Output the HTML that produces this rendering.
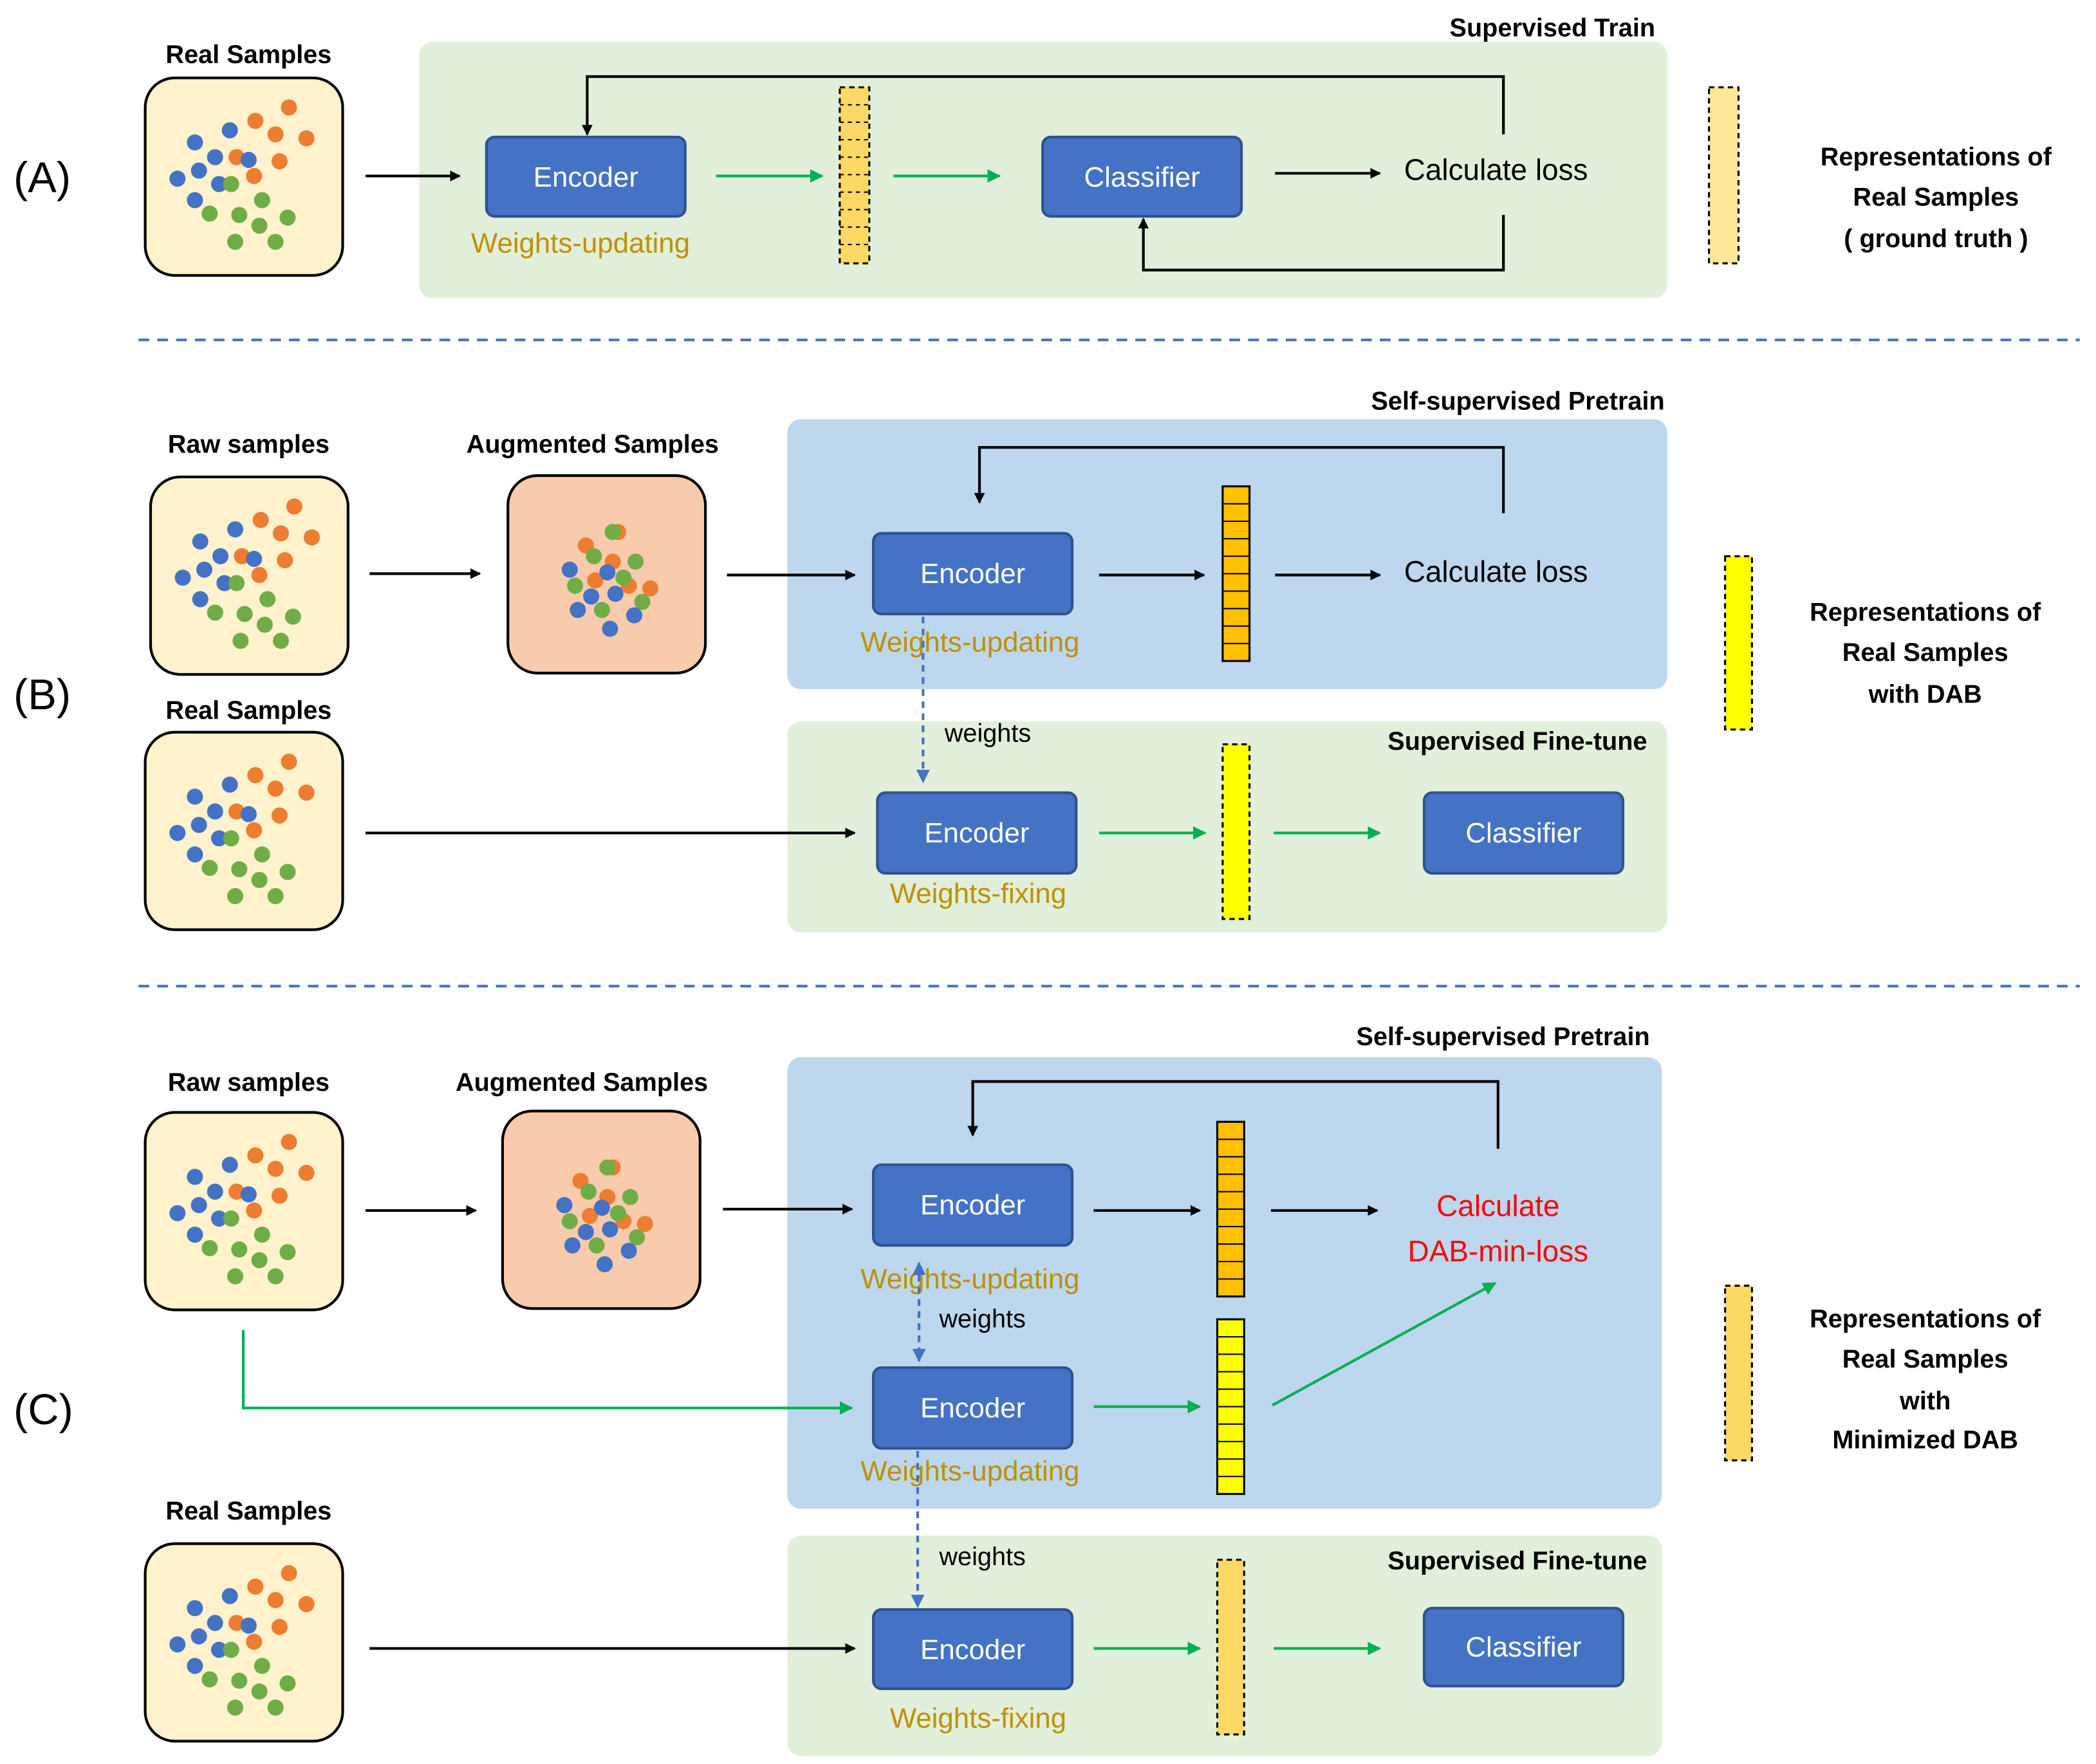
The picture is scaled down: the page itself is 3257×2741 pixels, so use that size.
<!DOCTYPE html>
<html><head><meta charset="utf-8"><style>html,body{margin:0;padding:0;background:#fff}svg{display:block}</style></head>
<body>
<svg width="3257" height="2741" viewBox="0 0 1560 1313" xmlns="http://www.w3.org/2000/svg" font-family="Liberation Sans, sans-serif">
<defs>
<marker id="ak" markerWidth="8" markerHeight="8" refX="7" refY="4" orient="auto" markerUnits="userSpaceOnUse"><path d="M0,0 L8,4 L0,8 z" fill="#000"/></marker>
<marker id="ag" markerWidth="10" markerHeight="10" refX="9" refY="5" orient="auto" markerUnits="userSpaceOnUse"><path d="M0,0 L10,5 L0,10 z" fill="#00b050"/></marker>
<marker id="ab" markerWidth="10" markerHeight="10" refX="9" refY="5" orient="auto-start-reverse" markerUnits="userSpaceOnUse"><path d="M0,0 L10,5 L0,10 z" fill="#4472c4"/></marker>
<g id="real">
<rect x="0" y="0" width="147" height="147" rx="22" fill="#fff2cc" stroke="#000" stroke-width="2"/>
<g fill="#ed7d31"><circle cx="107" cy="22" r="6"/><circle cx="82" cy="32" r="6"/><circle cx="97" cy="42" r="6"/><circle cx="120" cy="45" r="6"/><circle cx="68" cy="59" r="6"/><circle cx="100" cy="62" r="6"/><circle cx="81" cy="73" r="6"/></g>
<g fill="#4472c4"><circle cx="37" cy="48" r="6"/><circle cx="63" cy="39" r="6"/><circle cx="52" cy="59" r="6"/><circle cx="77" cy="61" r="6"/><circle cx="40" cy="69" r="6"/><circle cx="24" cy="75" r="6"/><circle cx="55" cy="79" r="6"/><circle cx="37" cy="91" r="6"/></g>
<g fill="#70ad47"><circle cx="64" cy="79" r="6"/><circle cx="48" cy="101" r="6"/><circle cx="70" cy="102" r="6"/><circle cx="87" cy="91" r="6"/><circle cx="85" cy="110" r="6"/><circle cx="106" cy="104" r="6"/><circle cx="67" cy="122" r="6"/><circle cx="97" cy="122" r="6"/></g>
</g>
<g id="aug">
<rect x="0" y="0" width="147" height="147" rx="22" fill="#f8cbad" stroke="#000" stroke-width="2"/>
<g fill="#ed7d31"><circle cx="82" cy="42" r="6"/><circle cx="58" cy="52" r="6"/><circle cx="78" cy="64" r="6"/><circle cx="90" cy="82" r="6"/><circle cx="106" cy="84" r="6"/><circle cx="65" cy="78" r="6"/></g>
<g fill="#70ad47"><circle cx="78" cy="42" r="6"/><circle cx="64" cy="60" r="6"/><circle cx="95" cy="64" r="6"/><circle cx="50" cy="82" r="6"/><circle cx="86" cy="76" r="6"/><circle cx="70" cy="100" r="6"/><circle cx="100" cy="94" r="6"/></g>
<g fill="#4472c4"><circle cx="46" cy="70" r="6"/><circle cx="74" cy="72" r="6"/><circle cx="62" cy="90" r="6"/><circle cx="52" cy="100" r="6"/><circle cx="94" cy="104" r="6"/><circle cx="76" cy="114" r="6"/><circle cx="80" cy="88" r="6"/></g>
</g>
</defs>
<g font-size="21">
<!-- (A) -->
<text x="10" y="143" font-size="32">(A)</text>
<text x="185" y="47" text-anchor="middle" font-weight="bold" font-size="19">Real Samples</text>
<use href="#real" x="108" y="58"/>
<rect x="312" y="31" width="929" height="191" rx="10" fill="#e2efda"/>
<text x="1232" y="27" text-anchor="end" font-weight="bold" font-size="19">Supervised Train</text>
<line x1="272" y1="131" x2="342" y2="131" stroke="#000" stroke-width="2" marker-end="url(#ak)"/>
<rect x="362" y="102" width="148" height="59" rx="6" fill="#4472c4" stroke="#2f528f" stroke-width="2"/>
<text x="436" y="139" text-anchor="middle" fill="#fff">Encoder</text>
<text x="432" y="188" text-anchor="middle" fill="#bf9000">Weights-updating</text>
<line x1="533" y1="131" x2="612" y2="131" stroke="#00b050" stroke-width="2" marker-end="url(#ag)"/>
<rect x="625" y="65" width="22" height="131" fill="#ffd966" stroke="#000" stroke-dasharray="4,3" stroke-width="1.5"/>
<g stroke="#000" stroke-dasharray="3,3"><line x1="625" y1="78" x2="647" y2="78"/><line x1="625" y1="91" x2="647" y2="91"/><line x1="625" y1="104" x2="647" y2="104"/><line x1="625" y1="117" x2="647" y2="117"/><line x1="625" y1="130" x2="647" y2="130"/><line x1="625" y1="143" x2="647" y2="143"/><line x1="625" y1="156" x2="647" y2="156"/><line x1="625" y1="169" x2="647" y2="169"/><line x1="625" y1="182" x2="647" y2="182"/></g>
<line x1="665" y1="131" x2="744" y2="131" stroke="#00b050" stroke-width="2" marker-end="url(#ag)"/>
<rect x="776" y="102" width="148" height="59" rx="6" fill="#4472c4" stroke="#2f528f" stroke-width="2"/>
<text x="850" y="139" text-anchor="middle" fill="#fff">Classifier</text>
<line x1="949" y1="129" x2="1027" y2="129" stroke="#000" stroke-width="2" marker-end="url(#ak)"/>
<text x="1045" y="134" font-size="22">Calculate loss</text>
<polyline points="1119,100 1119,57 437,57 437,100" fill="none" stroke="#000" stroke-width="2" marker-end="url(#ak)"/>
<polyline points="1119,160 1119,201 851,201 851,163" fill="none" stroke="#000" stroke-width="2" marker-end="url(#ak)"/>
<rect x="1272" y="65" width="22" height="131" fill="#ffe699" stroke="#000" stroke-dasharray="4,3" stroke-width="1.5"/>
<text x="1441" y="123" text-anchor="middle" font-weight="bold" font-size="19">Representations of</text>
<text x="1441" y="153" text-anchor="middle" font-weight="bold" font-size="19">Real Samples</text>
<text x="1441" y="184" text-anchor="middle" font-weight="bold" font-size="19">( ground truth )</text>
<line x1="103" y1="253" x2="1548" y2="253" stroke="#4472c4" stroke-width="2" stroke-dasharray="8,6"/>

<!-- (B) -->
<text x="10" y="528" font-size="32">(B)</text>
<text x="185" y="337" text-anchor="middle" font-weight="bold" font-size="19">Raw samples</text>
<use href="#real" x="112" y="355"/>
<line x1="275" y1="427" x2="357" y2="427" stroke="#000" stroke-width="2" marker-end="url(#ak)"/>
<text x="441" y="337" text-anchor="middle" font-weight="bold" font-size="19">Augmented Samples</text>
<use href="#aug" x="378" y="354"/>
<rect x="586" y="312" width="655" height="201" rx="10" fill="#bdd7ee"/>
<text x="1239" y="305" text-anchor="end" font-weight="bold" font-size="19">Self-supervised Pretrain</text>
<line x1="541" y1="428" x2="636" y2="428" stroke="#000" stroke-width="2" marker-end="url(#ak)"/>
<rect x="650" y="397" width="148" height="60" rx="6" fill="#4472c4" stroke="#2f528f" stroke-width="2"/>
<text x="724" y="434" text-anchor="middle" fill="#fff">Encoder</text>
<text x="722" y="485" text-anchor="middle" fill="#bf9000">Weights-updating</text>
<line x1="818" y1="428" x2="896" y2="428" stroke="#000" stroke-width="2" marker-end="url(#ak)"/>
<rect x="910" y="362" width="20" height="130" fill="#ffc000" stroke="#000" stroke-width="1.5"/>
<g stroke="#000"><line x1="910" y1="375" x2="930" y2="375"/><line x1="910" y1="388" x2="930" y2="388"/><line x1="910" y1="401" x2="930" y2="401"/><line x1="910" y1="414" x2="930" y2="414"/><line x1="910" y1="427" x2="930" y2="427"/><line x1="910" y1="440" x2="930" y2="440"/><line x1="910" y1="453" x2="930" y2="453"/><line x1="910" y1="466" x2="930" y2="466"/><line x1="910" y1="479" x2="930" y2="479"/></g>
<line x1="949" y1="428" x2="1027" y2="428" stroke="#000" stroke-width="2" marker-end="url(#ak)"/>
<text x="1045" y="433" font-size="22">Calculate loss</text>
<polyline points="1119,382 1119,333 729,333 729,374" fill="none" stroke="#000" stroke-width="2" marker-end="url(#ak)"/>
<text x="185" y="535" text-anchor="middle" font-weight="bold" font-size="19">Real Samples</text>
<use href="#real" x="108" y="545"/>
<rect x="586" y="537" width="655" height="157" rx="10" fill="#e2efda"/>
<text x="1226" y="558" text-anchor="end" font-weight="bold" font-size="19">Supervised Fine-tune</text>
<line x1="272" y1="620" x2="636" y2="620" stroke="#000" stroke-width="2" marker-end="url(#ak)"/>
<rect x="653" y="590" width="148" height="60" rx="6" fill="#4472c4" stroke="#2f528f" stroke-width="2"/>
<text x="727" y="627" text-anchor="middle" fill="#fff">Encoder</text>
<text x="728" y="672" text-anchor="middle" fill="#bf9000">Weights-fixing</text>
<line x1="818" y1="620" x2="897" y2="620" stroke="#00b050" stroke-width="2" marker-end="url(#ag)"/>
<rect x="910" y="554" width="20" height="130" fill="#ffff00" stroke="#000" stroke-dasharray="4,3" stroke-width="1.5"/>
<line x1="948" y1="620" x2="1027" y2="620" stroke="#00b050" stroke-width="2" marker-end="url(#ag)"/>
<rect x="1060" y="590" width="148" height="60" rx="6" fill="#4472c4" stroke="#2f528f" stroke-width="2"/>
<text x="1134" y="627" text-anchor="middle" fill="#fff">Classifier</text>
<rect x="1284" y="414" width="20" height="129" fill="#ffff00" stroke="#000" stroke-dasharray="4,3" stroke-width="1.5"/>
<text x="1433" y="462" text-anchor="middle" font-weight="bold" font-size="19">Representations of</text>
<text x="1433" y="492" text-anchor="middle" font-weight="bold" font-size="19">Real Samples</text>
<text x="1433" y="523" text-anchor="middle" font-weight="bold" font-size="19">with DAB</text>
<line x1="103" y1="734" x2="1548" y2="734" stroke="#4472c4" stroke-width="2" stroke-dasharray="8,6"/>

<!-- (C) -->
<text x="10" y="1060" font-size="32">(C)</text>
<text x="185" y="812" text-anchor="middle" font-weight="bold" font-size="19">Raw samples</text>
<use href="#real" x="108" y="828"/>
<line x1="272" y1="901" x2="354" y2="901" stroke="#000" stroke-width="2" marker-end="url(#ak)"/>
<text x="433" y="812" text-anchor="middle" font-weight="bold" font-size="19">Augmented Samples</text>
<use href="#aug" x="374" y="827"/>
<rect x="586" y="787" width="651" height="336" rx="10" fill="#bdd7ee"/>
<text x="1228" y="778" text-anchor="end" font-weight="bold" font-size="19">Self-supervised Pretrain</text>
<line x1="538" y1="900" x2="634" y2="900" stroke="#000" stroke-width="2" marker-end="url(#ak)"/>
<rect x="650" y="867" width="148" height="60" rx="6" fill="#4472c4" stroke="#2f528f" stroke-width="2"/>
<text x="724" y="904" text-anchor="middle" fill="#fff">Encoder</text>
<text x="722" y="959" text-anchor="middle" fill="#bf9000">Weights-updating</text>
<line x1="814" y1="901" x2="893" y2="901" stroke="#000" stroke-width="2" marker-end="url(#ak)"/>
<rect x="906" y="835" width="20" height="130" fill="#ffc000" stroke="#000" stroke-width="1.5"/>
<g stroke="#000"><line x1="906" y1="848" x2="926" y2="848"/><line x1="906" y1="861" x2="926" y2="861"/><line x1="906" y1="874" x2="926" y2="874"/><line x1="906" y1="887" x2="926" y2="887"/><line x1="906" y1="900" x2="926" y2="900"/><line x1="906" y1="913" x2="926" y2="913"/><line x1="906" y1="926" x2="926" y2="926"/><line x1="906" y1="939" x2="926" y2="939"/><line x1="906" y1="952" x2="926" y2="952"/></g>
<line x1="946" y1="901" x2="1025" y2="901" stroke="#000" stroke-width="2" marker-end="url(#ak)"/>
<text x="1115" y="905" text-anchor="middle" fill="#ff0000" font-size="22">Calculate</text>
<text x="1115" y="939" text-anchor="middle" fill="#ff0000" font-size="22">DAB-min-loss</text>
<polyline points="1115,855 1115,805 724,805 724,845" fill="none" stroke="#000" stroke-width="2" marker-end="url(#ak)"/>
<text x="699" y="988" font-size="19">weights</text>
<polyline points="181,990 181,1048 634,1048" fill="none" stroke="#00b050" stroke-width="2" marker-end="url(#ag)"/>
<rect x="650" y="1018" width="148" height="60" rx="6" fill="#4472c4" stroke="#2f528f" stroke-width="2"/>
<text x="724" y="1055" text-anchor="middle" fill="#fff">Encoder</text>
<text x="722" y="1102" text-anchor="middle" fill="#bf9000">Weights-updating</text>
<line x1="814" y1="1047" x2="893" y2="1047" stroke="#00b050" stroke-width="2" marker-end="url(#ag)"/>
<rect x="906" y="982" width="20" height="130" fill="#ffff00" stroke="#000" stroke-width="1.5"/>
<g stroke="#000"><line x1="906" y1="995" x2="926" y2="995"/><line x1="906" y1="1008" x2="926" y2="1008"/><line x1="906" y1="1021" x2="926" y2="1021"/><line x1="906" y1="1034" x2="926" y2="1034"/><line x1="906" y1="1047" x2="926" y2="1047"/><line x1="906" y1="1060" x2="926" y2="1060"/><line x1="906" y1="1073" x2="926" y2="1073"/><line x1="906" y1="1086" x2="926" y2="1086"/><line x1="906" y1="1099" x2="926" y2="1099"/></g>
<line x1="947" y1="1046" x2="1113" y2="955" stroke="#00b050" stroke-width="2" marker-end="url(#ag)"/>
<text x="185" y="1131" text-anchor="middle" font-weight="bold" font-size="19">Real Samples</text>
<use href="#real" x="108" y="1149"/>
<rect x="586" y="1143" width="651" height="164" rx="10" fill="#e2efda"/>
<text x="1226" y="1168" text-anchor="end" font-weight="bold" font-size="19">Supervised Fine-tune</text>
<text x="699" y="1165" font-size="19">weights</text>
<line x1="275" y1="1227" x2="636" y2="1227" stroke="#000" stroke-width="2" marker-end="url(#ak)"/>
<rect x="650" y="1198" width="148" height="59" rx="6" fill="#4472c4" stroke="#2f528f" stroke-width="2"/>
<text x="724" y="1235" text-anchor="middle" fill="#fff">Encoder</text>
<text x="728" y="1286" text-anchor="middle" fill="#bf9000">Weights-fixing</text>
<line x1="814" y1="1227" x2="893" y2="1227" stroke="#00b050" stroke-width="2" marker-end="url(#ag)"/>
<rect x="906" y="1161" width="20" height="130" fill="#ffd966" stroke="#000" stroke-dasharray="4,3" stroke-width="1.5"/>
<line x1="948" y1="1227" x2="1027" y2="1227" stroke="#00b050" stroke-width="2" marker-end="url(#ag)"/>
<rect x="1060" y="1197" width="148" height="58" rx="6" fill="#4472c4" stroke="#2f528f" stroke-width="2"/>
<text x="1134" y="1233" text-anchor="middle" fill="#fff">Classifier</text>
<rect x="1284" y="957" width="20" height="130" fill="#ffd966" stroke="#000" stroke-dasharray="4,3" stroke-width="1.5"/>
<text x="1433" y="988" text-anchor="middle" font-weight="bold" font-size="19">Representations of</text>
<text x="1433" y="1018" text-anchor="middle" font-weight="bold" font-size="19">Real Samples</text>
<text x="1433" y="1049" text-anchor="middle" font-weight="bold" font-size="19">with</text>
<text x="1433" y="1078" text-anchor="middle" font-weight="bold" font-size="19">Minimized DAB</text>

<!-- weights arrows on top -->
<line x1="687" y1="459" x2="687" y2="582" stroke="#4472c4" stroke-width="2" stroke-dasharray="5,4" marker-end="url(#ab)"/>
<text x="703" y="552" font-size="19">weights</text>
<line x1="684" y1="940" x2="684" y2="1013" stroke="#4472c4" stroke-width="2" stroke-dasharray="5,4" marker-start="url(#ab)" marker-end="url(#ab)"/>
<line x1="683" y1="1080" x2="683" y2="1196" stroke="#4472c4" stroke-width="2" stroke-dasharray="5,4" marker-end="url(#ab)"/>
</g>
</svg>
</body></html>
